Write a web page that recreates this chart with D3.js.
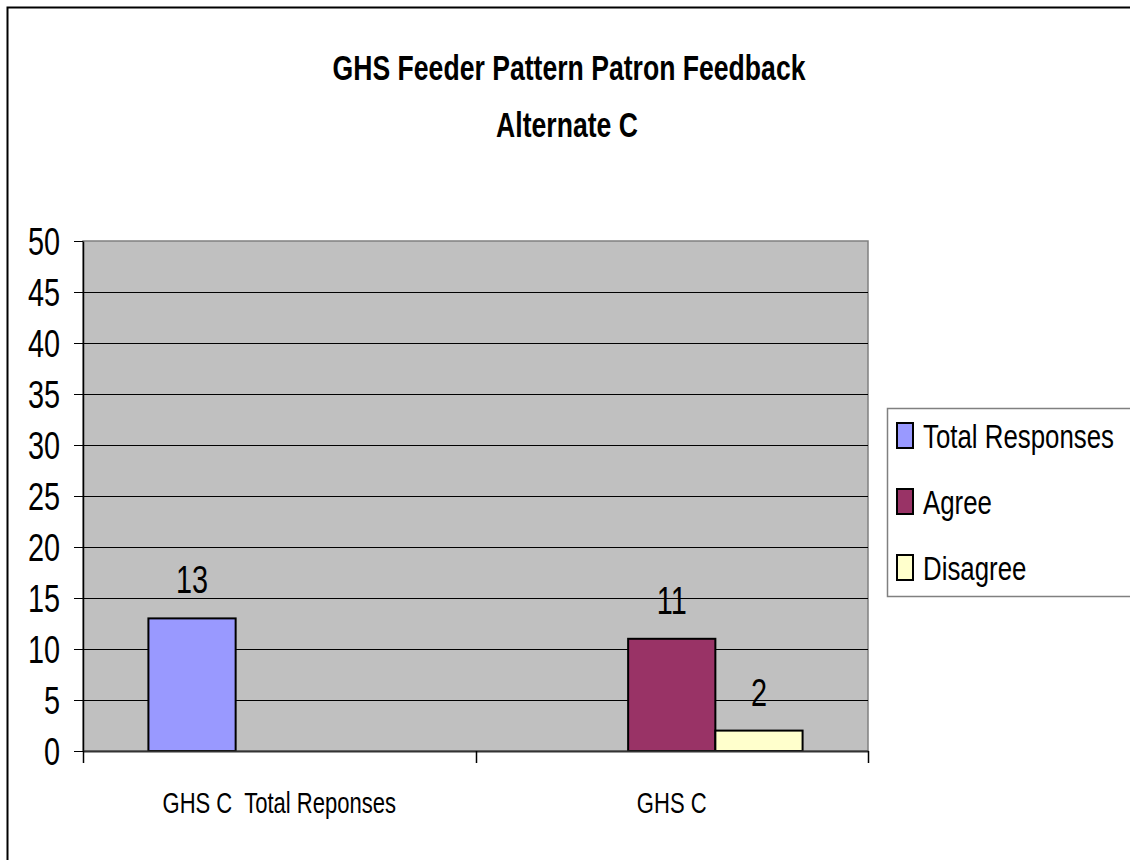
<!DOCTYPE html>
<html>
  <head>
    <meta charset="utf-8">
    <title>GHS Feeder Pattern Patron Feedback</title>
    <script src="https://cdn.jsdelivr.net/npm/d3@7"></script>
    <style>
      body { margin: 0; background: #fff; }
      svg text { font-family: "Liberation Sans", Arial, sans-serif; fill: #000; }
    </style>
  </head>
  <body>
    <div id="chart"></div>
    <script>
      // chart data
      var categories = ["GHS C  Total Reponses", "GHS C"];
      var seriesNames = ["Total Responses", "Agree", "Disagree"];
      var totalResponses = [13, null];
      var agree = [null, 11];
      var disagree = [null, 2];
      var yTicks = [0, 5, 10, 15, 20, 25, 30, 35, 40, 45, 50];
      var titleLines = ["GHS Feeder Pattern Patron Feedback", "Alternate C"];

      var colors = ["#9999FF", "#993366", "#FFFFCC"];
      var seriesValues = [totalResponses, agree, disagree];

      // the source text is a squeezed Arial, so squash it horizontally
      var SX = 0.76;

      var W = 1130, H = 860;
      var plot = {left: 83, top: 241, right: 868, bottom: 751};

      var svg = d3.select("#chart")
        .append("svg")
          .attr("width", W)
          .attr("height", H);

      // outer chart border
      svg.append("path")
        .attr("d", "M7.5," + H + "V7.5H" + W)
        .attr("fill", "none")
        .attr("stroke", "#000")
        .attr("stroke-width", 2);

      function label(x, y, str, size, anchor, bold) {
        return svg.append("text")
          .attr("transform", "translate(" + x + "," + y + ") scale(" + SX + ",1)")
          .attr("text-anchor", anchor || "middle")
          .style("font-size", size + "px")
          .style("font-weight", bold ? "bold" : "normal")
          .style("white-space", "pre")
          .text(str);
      }

      // title
      label(569, 80, titleLines[0], 35, "middle", true);
      label(567, 137, titleLines[1], 35, "middle", true);

      // scales
      var x0 = d3.scaleBand()
        .domain(categories)
        .range([plot.left, plot.right])
        .padding(0);

      var x1 = d3.scaleBand()
        .domain(seriesNames)
        .range([0, x0.bandwidth()])
        .paddingInner(0)
        .paddingOuter(0.75);

      var y = d3.scaleLinear()
        .domain([0, 50])
        .range([plot.bottom, plot.top]);

      // plot background
      svg.append("rect")
        .attr("x", plot.left)
        .attr("y", plot.top)
        .attr("width", plot.right - plot.left)
        .attr("height", plot.bottom - plot.top)
        .attr("fill", "#C0C0C0")
        .attr("stroke", "#808080")
        .attr("stroke-width", 1.5);

      // gridlines
      svg.append("g")
        .selectAll("line")
        .data(yTicks.filter(function(d) { return d > 0 && d < 50; }))
        .enter()
        .append("line")
          .attr("x1", plot.left)
          .attr("x2", plot.right)
          .attr("y1", function(d) { return Math.round(y(d)) + 0.5; })
          .attr("y2", function(d) { return Math.round(y(d)) + 0.5; })
          .attr("stroke", "#000")
          .attr("stroke-width", 1);

      // bars
      seriesNames.forEach(function(s, si) {
        svg.append("g")
          .selectAll("rect")
          .data(categories.map(function(c, ci) { return {cat: c, value: seriesValues[si][ci]}; })
                .filter(function(d) { return d.value !== null; }))
          .enter()
          .append("rect")
            .attr("x", function(d) { return x0(d.cat) + x1(s); })
            .attr("y", function(d) { return y(d.value); })
            .attr("width", x1.bandwidth())
            .attr("height", function(d) { return y(0) - y(d.value); })
            .attr("fill", colors[si])
            .attr("stroke", "#000")
            .attr("stroke-width", 2);

        // value labels
        categories.forEach(function(c, ci) {
          var v = seriesValues[si][ci];
          if (v === null) return;
          label(x0(c) + x1(s) + x1.bandwidth() / 2, y(v) - 25, String(v), 38);
        });
      });

      // y axis
      var yAxis = svg.append("g")
        .attr("transform", "translate(" + plot.left + ",0)")
        .call(d3.axisLeft(y).tickValues(yTicks).tickSize(9).tickSizeOuter(0));
      yAxis.select(".domain").attr("stroke", "#000").attr("stroke-width", 1.5);
      yAxis.selectAll(".tick line").attr("stroke", "#000");
      yAxis.selectAll(".tick text")
        .attr("x", null)
        .attr("dy", "0.36em")
        .attr("transform", "translate(-23,0) scale(" + SX + ",1)")
        .style("font-size", "38px")
        .style("font-family", "'Liberation Sans', Arial, sans-serif")
        .attr("fill", "#000");

      // x axis
      var xAxis = svg.append("g")
        .attr("transform", "translate(0," + plot.bottom + ")")
        .call(d3.axisBottom(x0).tickSize(0).tickFormat(""));
      xAxis.select(".domain").attr("stroke", "#333").attr("stroke-width", 2);

      // category separator ticks
      var sepTicks = categories.map(function(c) { return x0(c); }).concat([x0.range()[1]]);
      xAxis.selectAll(".sep")
        .data(sepTicks)
        .enter()
        .append("line")
          .attr("class", "sep")
          .attr("x1", function(d) { return Math.round(d) + 0.5; })
          .attr("x2", function(d) { return Math.round(d) + 0.5; })
          .attr("y1", 0)
          .attr("y2", 12)
          .attr("stroke", "#000")
          .attr("stroke-width", 1.5);

      categories.forEach(function(c) {
        label(x0(c) + x0.bandwidth() / 2, 813, c, 29);
      });

      // legend
      var legend = {x: 887, top: 408, bottom: 596};
      svg.append("path")
        .attr("d", "M" + W + "," + (legend.top + 0.5) + "H" + (legend.x + 0.5) + "V" + (legend.bottom + 0.5) + "H" + W)
        .attr("fill", "none")
        .attr("stroke", "#808080")
        .attr("stroke-width", 1.5);

      var legendBase = [448, 514, 580];
      seriesNames.forEach(function(s, i) {
        svg.append("rect")
          .attr("x", 897)
          .attr("y", legendBase[i] - 25)
          .attr("width", 16)
          .attr("height", 25)
          .attr("fill", colors[i])
          .attr("stroke", "#000")
          .attr("stroke-width", 2);
        label(923, legendBase[i], s, 34, "start");
      });
    </script>
  </body>
</html>
